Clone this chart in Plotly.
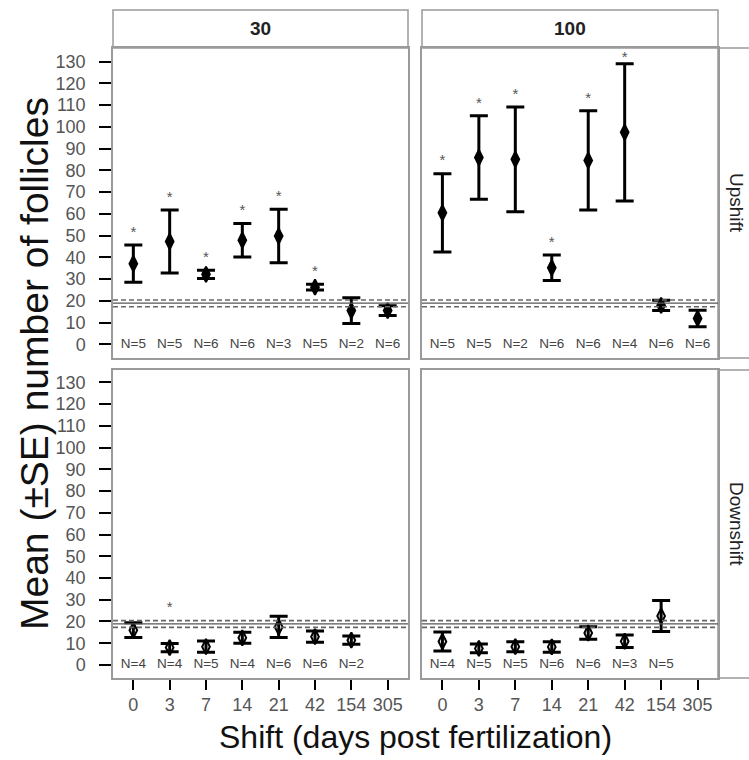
import plotly.graph_objects as go

# ---------------- data ----------------
days = ["0", "3", "7", "14", "21", "42", "154", "305"]
col_labels = ["30", "100"]
row_labels = ["Upshift", "Downshift"]

up30_mean = [37.1, 47.3, 32.2, 47.9, 49.8, 26.3, 15.5, 15.5]
up30_se = [8.6, 14.5, 1.9, 7.7, 12.3, 1.3, 5.9, 2.2]
up30_n = [5, 5, 6, 6, 3, 5, 2, 6]
up30_sig = [1, 1, 1, 1, 1, 1, 0, 0]

up100_mean = [60.5, 85.9, 85.1, 35.2, 84.6, 97.5, 17.9, 11.9]
up100_se = [18.0, 19.2, 24.1, 5.9, 22.8, 31.6, 2.4, 3.8]
up100_n = [5, 5, 2, 6, 6, 4, 6, 6]
up100_sig = [1, 1, 1, 1, 1, 1, 0, 0]

down30_mean = [16.0, 8.0, 8.4, 12.5, 17.5, 13.0, 11.4]
down30_se = [3.4, 1.9, 2.6, 2.5, 4.9, 2.6, 1.9]
down30_n = [4, 4, 5, 4, 6, 6, 2]
down30_sig = [0, 1, 0, 0, 0, 0, 0]

down100_mean = [10.8, 7.6, 8.4, 8.3, 14.7, 10.9, 22.5]
down100_se = [4.4, 2.0, 2.3, 2.4, 2.9, 2.9, 7.1]
down100_n = [4, 5, 5, 6, 6, 3, 5]
down100_sig = [0, 0, 0, 0, 0, 0, 0]

ref_mean = 18.9
ref_band = [17.3, 20.4]

# ---------------- layout helpers ----------------
W, H = 749, 760
def pxx(x):
    return x / W
def pyy(y):
    return 1 - y / H

FONT = "Liberation Sans, Arial, sans-serif"
TICK_COL = "#555555"
BORDER = "#9a9a9a"

panels = [
    # (mean, se, n, sig, axis suffix, filled)
    (up30_mean, up30_se, up30_n, up30_sig, "", True),
    (up100_mean, up100_se, up100_n, up100_sig, "2", True),
    (down30_mean, down30_se, down30_n, down30_sig, "3", False),
    (down100_mean, down100_se, down100_n, down100_sig, "4", False),
]

fig = go.Figure()

for mean, se, n, sig, sfx, filled in panels:
    xa = "x" + sfx
    ya = "y" + sfx
    xs = days[:len(mean)]
    fig.add_trace(go.Scatter(
        x=xs, y=mean, xaxis=xa, yaxis=ya, mode="markers",
        marker=dict(symbol="diamond-tall" if filled else "diamond-tall-open",
                    size=11, color="black", line=dict(color="black", width=2)),
        error_y=dict(type="data", array=se, visible=True, color="black",
                     thickness=3, width=9),
        showlegend=False, hoverinfo="skip"))
    # N labels
    fig.add_trace(go.Scatter(
        x=xs, y=[0] * len(xs), xaxis=xa, yaxis=ya, mode="text",
        text=["N=%d" % v for v in n], textposition="middle center",
        textfont=dict(family=FONT, size=13.5, color="#444444"),
        showlegend=False, hoverinfo="skip"))
    # significance asterisks
    sx, sy = [], []
    for d, m, s, g in zip(xs, mean, se, sig):
        if g:
            sx.append(d)
            sy.append(min(max(m + s, ref_band[1]) + 5.5, 131.5))
    if sx:
        fig.add_trace(go.Scatter(
            x=sx, y=sy, xaxis=xa, yaxis=ya, mode="text",
            text=["*"] * len(sx), textposition="middle center",
            textfont=dict(family=FONT, size=15, color="#555555"),
            showlegend=False, hoverinfo="skip"))
    # reference lines
    fig.add_shape(type="line", xref=xa + " domain", yref=ya, x0=0, x1=1,
                  y0=ref_mean, y1=ref_mean, line=dict(color="#555555", width=1.3))
    for v in ref_band:
        fig.add_shape(type="line", xref=xa + " domain", yref=ya, x0=0, x1=1,
                      y0=v, y1=v, line=dict(color="#666666", width=1.6, dash="5px,3px"))

# domains
xdom_l = [pxx(113), pxx(408)]
xdom_r = [pxx(422), pxx(718)]
ydom_t = [pyy(358), pyy(48)]
ydom_b = [pyy(678), pyy(370)]

xbase = dict(type="category", categoryarray=days, range=[-0.56, 7.56],
             showline=True, mirror=True, linecolor=BORDER, linewidth=1.5,
             showgrid=False, zeroline=False, fixedrange=True,
             tickfont=dict(family=FONT, size=18, color=TICK_COL))
ybase = dict(showline=True, mirror=True, linecolor=BORDER, linewidth=1.5,
             showgrid=False, zeroline=False, fixedrange=True,
             tickvals=list(range(0, 131, 10)),
             tickfont=dict(family=FONT, size=18, color=TICK_COL))

xt = dict(ticks="outside", ticklen=10, tickwidth=2, tickcolor="black", showticklabels=True,
          ticklabelstandoff=0)
xn = dict(ticks="", showticklabels=False)
yt = dict(ticks="outside", ticklen=12, tickwidth=2, tickcolor="black", showticklabels=True,
          ticklabelstandoff=10)
yn = dict(ticks="", showticklabels=False)

fig.update_layout(
    width=W, height=H, margin=dict(l=0, r=0, t=0, b=0),
    paper_bgcolor="white", plot_bgcolor="white",
    xaxis=dict(**xbase, **xn, domain=xdom_l, anchor="y"),
    yaxis=dict(**ybase, **yt, domain=ydom_t, anchor="x", range=[-6.3, 136.3]),
    xaxis2=dict(**xbase, **xn, domain=xdom_r, anchor="y2"),
    yaxis2=dict(**ybase, **yn, domain=ydom_t, anchor="x2", range=[-6.3, 136.3]),
    xaxis3=dict(**xbase, **xt, domain=xdom_l, anchor="y3"),
    yaxis3=dict(**ybase, **yt, domain=ydom_b, anchor="x3", range=[-6.0, 135.7]),
    xaxis4=dict(**xbase, **xt, domain=xdom_r, anchor="y4"),
    yaxis4=dict(**ybase, **yn, domain=ydom_b, anchor="x4", range=[-6.0, 135.7]),
)

# strips (top)
for lab, (x0, x1) in zip(col_labels, [(113, 408), (422, 718)]):
    fig.add_shape(type="rect", xref="paper", yref="paper",
                  x0=pxx(x0), x1=pxx(x1), y0=pyy(48), y1=pyy(10),
                  line=dict(color=BORDER, width=1.5), fillcolor="white", layer="below")
    fig.add_annotation(xref="paper", yref="paper", x=pxx((x0 + x1) / 2), y=pyy(29),
                       text="<b>%s</b>" % lab, showarrow=False,
                       font=dict(family=FONT, size=19, color="#222222"),
                       xanchor="center", yanchor="middle")
# strips (right)
for lab, (y0, y1) in zip(row_labels, [(48, 358), (370, 678)]):
    fig.add_shape(type="rect", xref="paper", yref="paper",
                  x0=pxx(718), x1=pxx(757), y0=pyy(y1), y1=pyy(y0),
                  line=dict(color=BORDER, width=1.5), fillcolor="white", layer="below")
    fig.add_annotation(xref="paper", yref="paper", x=pxx(737), y=pyy((y0 + y1) / 2),
                       text=lab, showarrow=False, textangle=90,
                       font=dict(family=FONT, size=19, color="#222222"),
                       xanchor="center", yanchor="middle")

# axis titles
fig.add_annotation(xref="paper", yref="paper", x=pxx(35), y=pyy(364),
                   text="Mean (±SE) number of follicles", showarrow=False, textangle=-90,
                   font=dict(family=FONT, size=39, color="#111111"),
                   xanchor="center", yanchor="middle")
fig.add_annotation(xref="paper", yref="paper", x=pxx(415), y=pyy(737),
                   text="Shift (days post fertilization)", showarrow=False,
                   font=dict(family=FONT, size=32, color="#111111"),
                   xanchor="center", yanchor="middle")

fig.write_html(
    "out.html",
    config={"displayModeBar": False},
    post_script="document.body.style.margin='0';document.body.style.overflow='hidden';",
)
